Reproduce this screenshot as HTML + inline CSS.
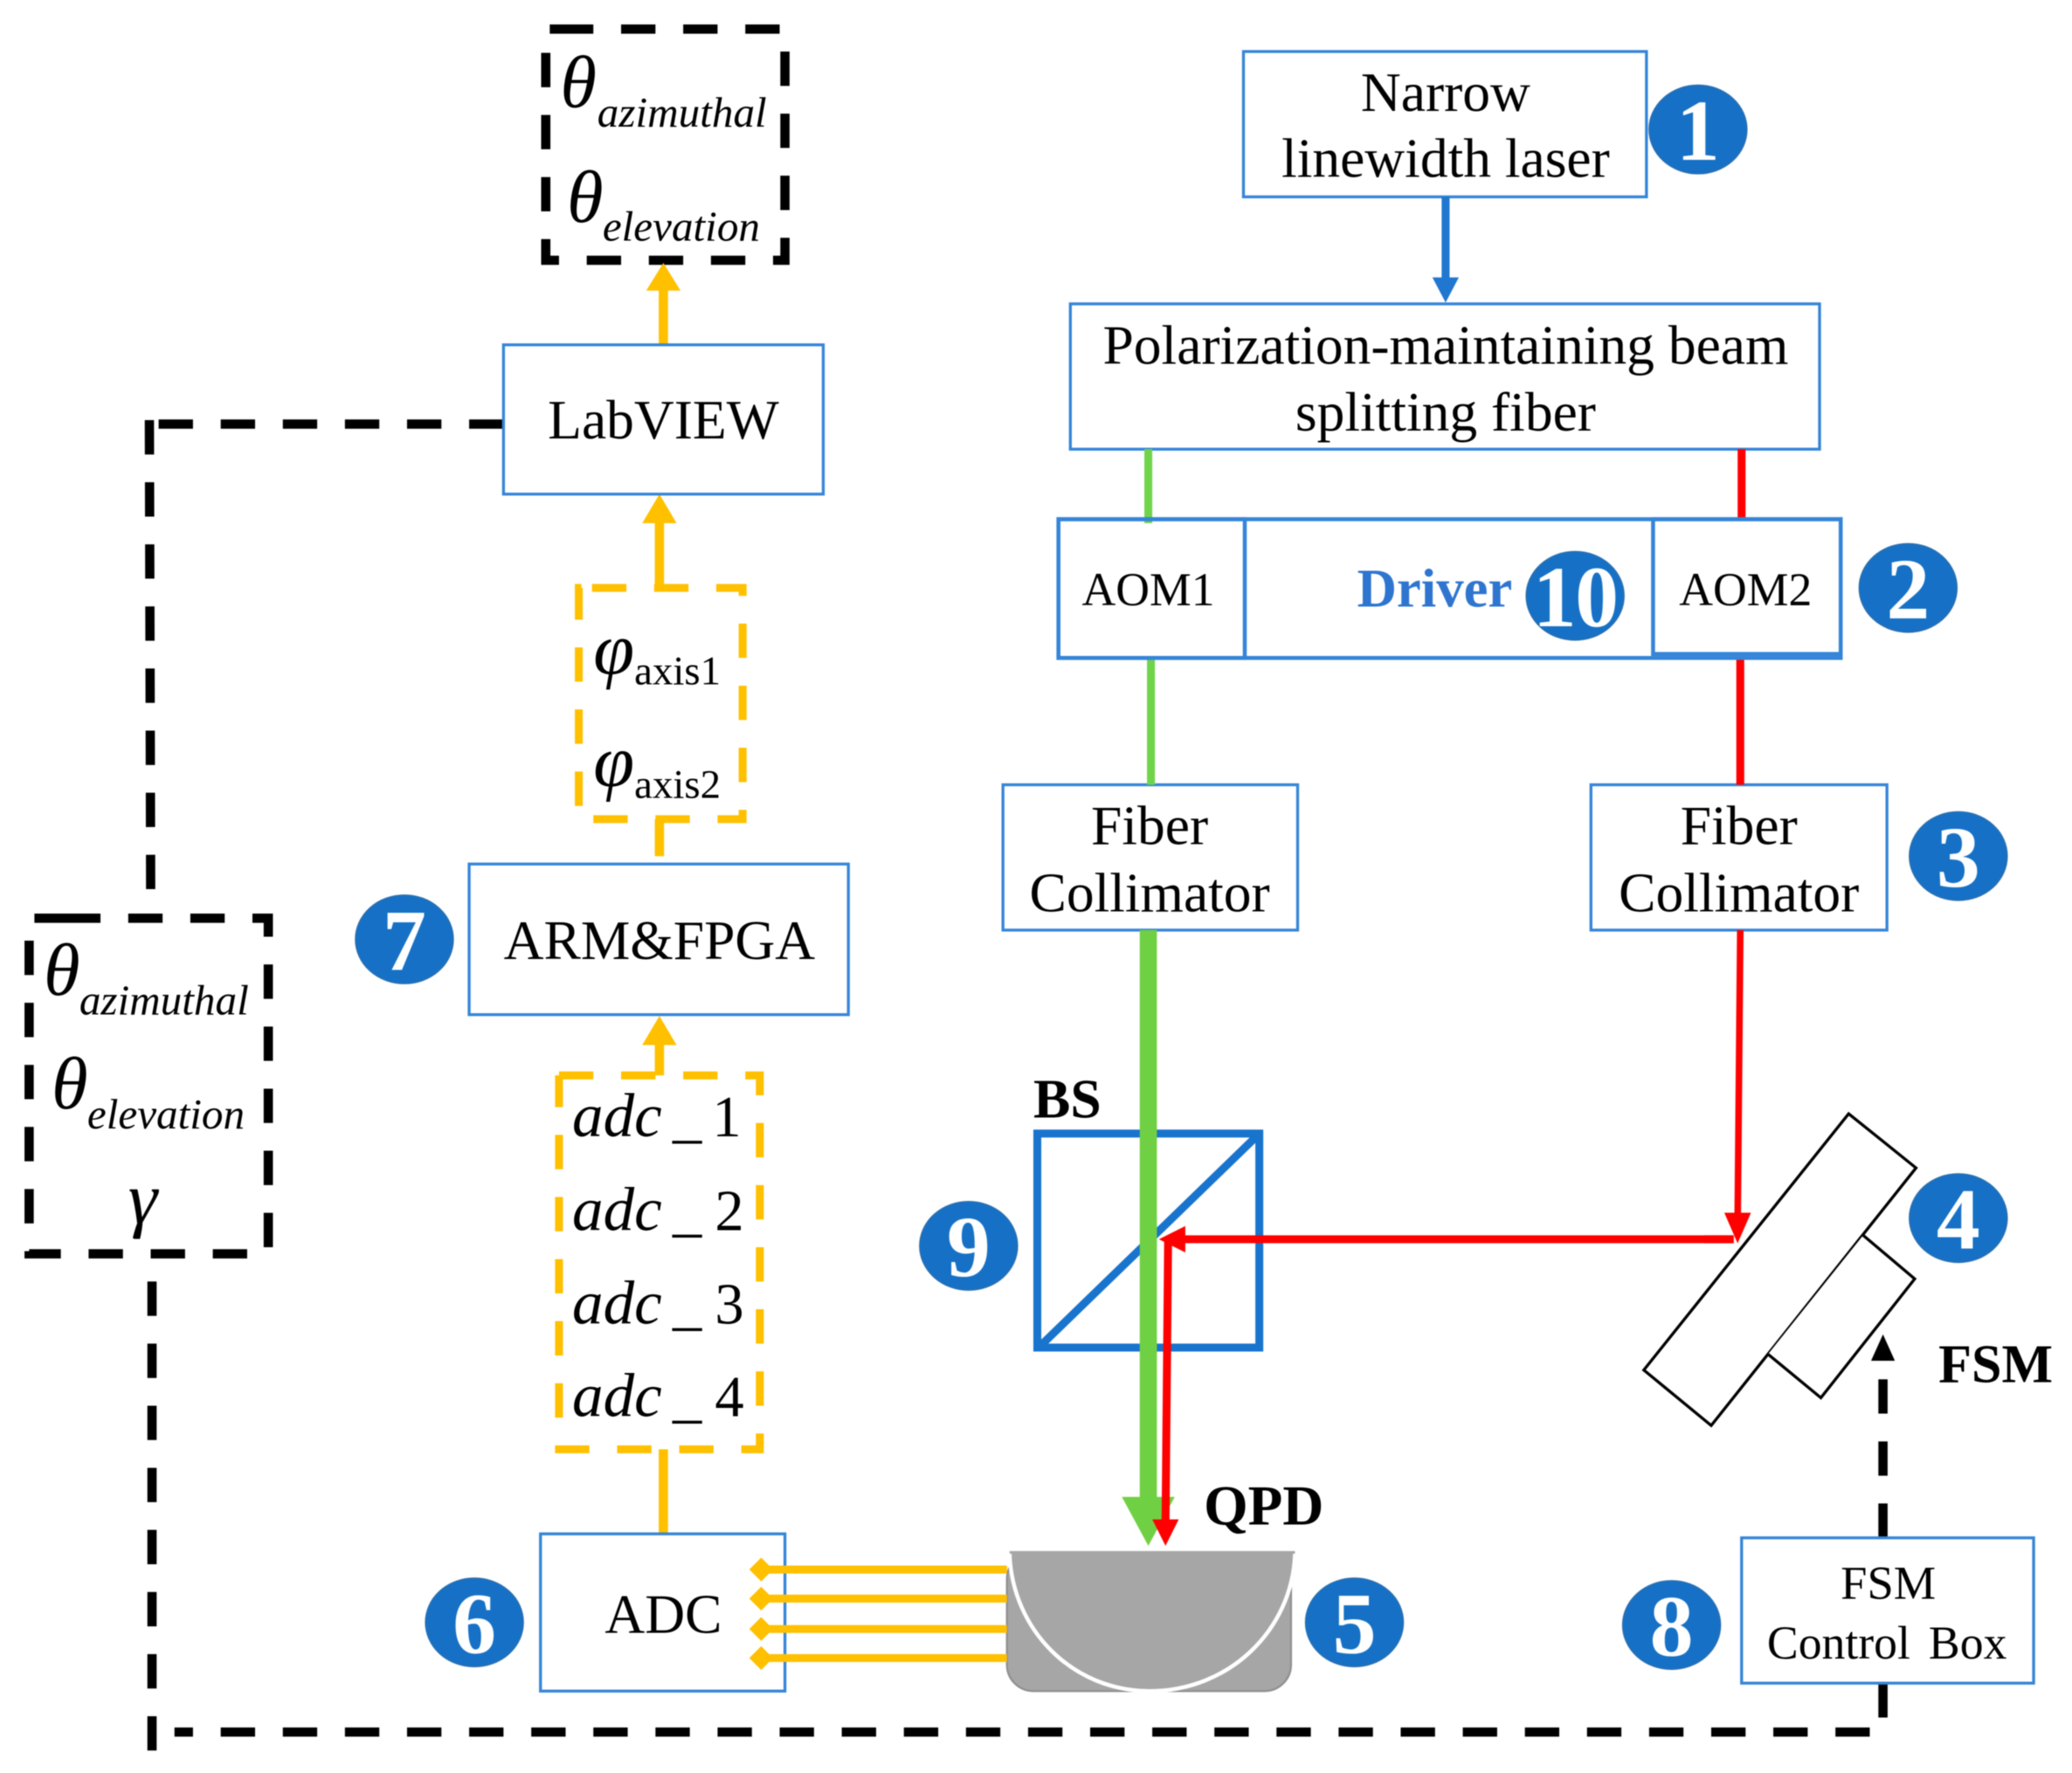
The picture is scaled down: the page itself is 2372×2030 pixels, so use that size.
<!DOCTYPE html>
<html><head><meta charset="utf-8"><style>
html,body{margin:0;padding:0;background:#fff}
svg{display:block;filter:blur(0.6px)}
text{font-family:"Liberation Serif",serif;fill:#000}
.t{font-size:42px;text-anchor:middle}
.i{font-style:italic}
.b{font-weight:bold}
.box{fill:#fff;stroke:#3585d8;stroke-width:2.2}
.d{fill:none;stroke:#000;stroke-width:7;stroke-dasharray:26 21}
.y{fill:none;stroke:#ffc000;stroke-width:6;stroke-dasharray:26 21}
.n{font-size:66px;font-weight:bold;fill:#fff;text-anchor:middle}
.th{font-size:56px;font-style:italic}
.s{font-size:32.5px;font-style:italic}
.a{font-size:47px;font-style:italic}
</style></head><body>
<svg xmlns="http://www.w3.org/2000/svg" width="2372" height="2030" viewBox="0 0 1568 1342">
<rect width="1568" height="1342" fill="#fff"/>
<path class="d" d="M423 22H594V197H413V22H423"/>
<path class="d" d="M381 321H119"/>
<path class="d" d="M113 318L114 680"/>
<path class="d" d="M50 695H203V949H22V695H50"/>
<path class="d" d="M1425 1274V1311H132"/>
<path class="d" d="M115 1325V950"/>
<path class="d" d="M1425 1164V1030"/>
<path d="M1425 1010l-9 20h18z" fill="#000"/>
<path d="M502 261V215" stroke="#ffc000" stroke-width="7"/><path d="M502 199l-13 21h26z" fill="#ffc000"/>
<path d="M499 445V392" stroke="#ffc000" stroke-width="7"/><path d="M499 374l-13 22h26z" fill="#ffc000"/>
<path d="M499 620V648" stroke="#ffc000" stroke-width="7"/>
<path d="M499 814V788" stroke="#ffc000" stroke-width="7"/><path d="M499 769l-13 22h26z" fill="#ffc000"/>
<path d="M502 1097V1161" stroke="#ffc000" stroke-width="7"/>
<path class="y" d="M448 445H562V620H438V445H448"/>
<path class="y" d="M423 814H575V1097H423V814"/>
<rect class="box" x="381" y="261" width="242" height="113"/>
<rect class="box" x="941" y="39" width="305" height="110"/>
<rect class="box" x="810" y="230" width="567" height="110"/>
<rect class="box" x="355" y="654" width="287" height="114"/>
<rect class="box" x="759" y="594" width="223" height="110"/>
<rect class="box" x="1204" y="594" width="224" height="110"/>
<rect class="box" x="409" y="1161" width="185" height="119"/>
<rect class="box" x="1318" y="1164" width="221" height="110"/>
<path d="M1094 149V212" stroke="#1f77d0" stroke-width="6"/><path d="M1094 229l-10-19h20z" fill="#1f77d0"/>
<path d="M869 340V396" stroke="#70d44b" stroke-width="6"/>
<path d="M871 498V594" stroke="#70d44b" stroke-width="6"/>
<path d="M1318 340V392M1317 498V594" stroke="#f00" stroke-width="6" fill="none"/>
<rect x="801" y="393" width="592" height="105" fill="none" stroke="#3585d8" stroke-width="3"/>
<rect x="801" y="393" width="141" height="105" fill="none" stroke="#3585d8" stroke-width="3"/>
<rect x="1251" y="393" width="142" height="102" fill="none" stroke="#3585d8" stroke-width="3"/>
<text x="869" y="458" class="t" style="font-size:35.5px">AOM1</text>
<text x="1321" y="458" class="t" style="font-size:35.5px">AOM2</text>
<text x="1027" y="459" class="b" style="font-size:41.5px;fill:#2e75d0">Driver</text>
<text x="502" y="332" class="t">LabVIEW</text>
<text x="1094" y="84" class="t">Narrow</text>
<text x="1094" y="134" class="t">linewidth laser</text>
<text x="1094" y="275.500" class="t">Polarization-maintaining beam</text>
<text x="1094" y="326" class="t">splitting fiber</text>
<text x="870" y="639" class="t">Fiber</text><text x="870" y="690" class="t">Collimator</text>
<text x="1316" y="639" class="t">Fiber</text><text x="1316" y="690" class="t">Collimator</text>
<text x="499" y="726" class="t">ARM&amp;FPGA</text>
<text x="502" y="1236" class="t">ADC</text>
<text x="1429" y="1210" class="t" style="font-size:36px">FSM</text>
<text x="1428" y="1255.500" class="t" style="font-size:35.5px;word-spacing:5px">Control Box</text>
<rect x="785" y="858" width="168" height="162" fill="#fff" stroke="#1874cd" stroke-width="6"/>
<path d="M786 1020L951 860" stroke="#1874cd" stroke-width="6"/>
<rect x="762" y="1175" width="215" height="105" rx="20" fill="#a6a6a6" stroke="#909090" stroke-width="1.5"/>
<path d="M764 1174H980C980 1234 930 1280 870 1280C810 1280 764 1234 764 1174Z" fill="#a6a6a6"/>
<path d="M764 1176C766 1234 812 1280 870 1280C930 1280 978 1234 980 1176" fill="none" stroke="#fff" stroke-width="3"/>
<path d="M869 704V1140" stroke="#70d044" stroke-width="13"/>
<path d="M849 1133H889L869 1170Z" fill="#70d044"/>
<path d="M1317 704L1315 925" stroke="#f00" stroke-width="5"/><path d="M1315 941l-10-23h20z" fill="#f00"/>
<path d="M1312 938H890" stroke="#f00" stroke-width="6"/><path d="M877 938l20-10v20z" fill="#f00"/>
<path d="M884 938L882 1155" stroke="#f00" stroke-width="6"/><path d="M882 1170l-10-20h20z" fill="#f00"/>
<path d="M1399 843L1450 884L1295 1079L1244 1037Z" fill="#fff" stroke="#000" stroke-width="2.2"/>
<path d="M1410 935L1449 968L1378 1058L1338 1025" fill="#fff" stroke="#000" stroke-width="2.2"/>
<path d="M1315 941l-10-23h20z" fill="#f00"/>
<path d="M1312 938H1290" stroke="#f00" stroke-width="6"/>
<g stroke="#ffc000" stroke-width="6"><path d="M762 1188H580M762 1210H580M762 1233H580M762 1255H580"/></g>
<g fill="#ffc000"><path d="M567 1188l9-9 9 9-9 9z"/><path d="M567 1210l9-9 9 9-9 9z"/><path d="M567 1233l9-9 9 9-9 9z"/><path d="M567 1255l9-9 9 9-9 9z"/></g>
<text x="782" y="846" class="b" style="font-size:42px">BS</text>
<text x="911" y="1154" class="b" style="font-size:43px">QPD</text>
<text x="1467" y="1046" class="b" style="font-size:41px">FSM</text>
<text x="424" y="81" class="th">θ</text><text x="452" y="96" class="s">azimuthal</text>
<text x="429" y="168" class="th">θ</text><text x="456" y="182" class="s">elevation</text>
<text x="33" y="753" class="th">θ</text><text x="60" y="768" class="s">azimuthal</text>
<text x="39" y="839" class="th">θ</text><text x="66" y="854" class="s">elevation</text>
<text x="97" y="926" class="th">γ</text>
<text x="449" y="510" class="th">φ</text><text x="480" y="518" style="font-size:31px">axis1</text>
<text x="449" y="595" class="th">φ</text><text x="480" y="604" style="font-size:31px">axis2</text>
<text x="433" y="860" class="a">adc</text><text x="509" y="860" style="font-size:44px">_</text><text x="539" y="860" style="font-size:44px">1</text>
<text x="433" y="931" class="a">adc</text><text x="509" y="931" style="font-size:44px">_</text><text x="541" y="931" style="font-size:44px">2</text>
<text x="433" y="1002" class="a">adc</text><text x="509" y="1002" style="font-size:44px">_</text><text x="541" y="1002" style="font-size:44px">3</text>
<text x="433" y="1072" class="a">adc</text><text x="509" y="1072" style="font-size:44px">_</text><text x="541" y="1072" style="font-size:44px">4</text>
<g fill="#1671c6" stroke="#2a6fb0" stroke-width="1">
<ellipse cx="1285" cy="98" rx="37" ry="33.5"/><ellipse cx="1444" cy="445" rx="37" ry="33.5"/><ellipse cx="1482" cy="648" rx="37" ry="33.5"/><ellipse cx="1482" cy="922" rx="37" ry="33.5"/><ellipse cx="1025" cy="1228" rx="37" ry="33.5"/><ellipse cx="359" cy="1228" rx="37" ry="33.5"/><ellipse cx="306" cy="711" rx="37" ry="33.5"/><ellipse cx="1265" cy="1230" rx="37" ry="33.5"/><ellipse cx="733" cy="943" rx="37" ry="33.5"/><ellipse cx="1192" cy="451" rx="37" ry="33.5"/>
</g>
<text x="1285" y="121" class="n">1</text><text x="1444" y="468" class="n">2</text><text x="1482" y="671" class="n">3</text><text x="1482" y="945" class="n">4</text><text x="1025" y="1251" class="n">5</text><text x="359" y="1251" class="n">6</text><text x="306" y="734" class="n">7</text><text x="1265" y="1253" class="n">8</text><text x="733" y="966" class="n">9</text><text x="1192" y="474" class="n" style="letter-spacing:-1px">10</text>
</svg>
</body></html>
